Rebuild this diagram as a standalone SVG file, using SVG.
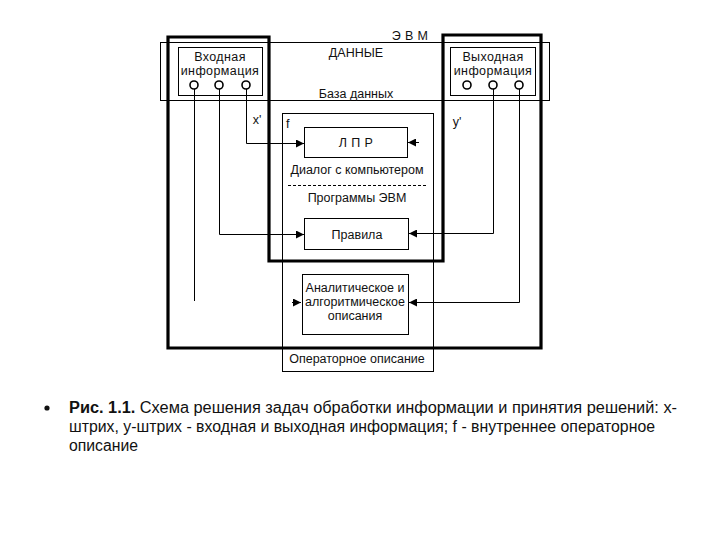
<svg xmlns="http://www.w3.org/2000/svg" width="720" height="540" viewBox="0 0 720 540">
<defs>
<marker id="ah" viewBox="0 0 10 10" refX="10" refY="5" markerWidth="9" markerHeight="8" markerUnits="userSpaceOnUse" orient="auto">
<path d="M0,0 L10,5 L0,10 Z" fill="#000"/>
</marker>
</defs>
<style>
.thin{fill:none;stroke:#000;stroke-width:1}
.thick{fill:none;stroke:#000;stroke-width:3.2}
.t{font-family:"Liberation Sans",Arial,sans-serif;font-size:12.5px;fill:#111;text-anchor:middle}
.ls{letter-spacing:0.4px}
.c{fill:#fff;stroke:#000;stroke-width:1.6}
.con{fill:none;stroke:#000;stroke-width:1}
.cap{font-family:"Liberation Sans",Arial,sans-serif;font-size:16px;fill:#111}
</style>
<rect width="720" height="540" fill="#fff"/>

<g id="evm">
<rect class="thin" x="160.5" y="42.5" width="389" height="58"/>
<text class="t ls" x="410" y="40">Э В М</text>
<text class="t" x="356" y="57">ДАННЫЕ</text>
<text class="t" x="356" y="98">База данных</text>
<path class="thick" d="M168,37 H269 V261 H443 V35 H541 V348 H168 Z"/>
</g>

<g id="operator">
<rect class="thin" x="282.5" y="113.5" width="151" height="258"/>
<text class="t" x="286" y="128" style="text-anchor:start">f</text>
<text class="t" x="357" y="363">Операторное описание</text>
</g>

<g id="input">
<rect class="thin" x="178.5" y="47.5" width="84" height="48"/>
<text class="t ls" x="220" y="61">Входная</text>
<text class="t ls" x="220" y="75">информация</text>
<circle class="c" cx="194" cy="85" r="4"/>
<circle class="c" cx="219" cy="85" r="4"/>
<circle class="c" cx="246" cy="85" r="4"/>
</g>

<g id="output">
<rect class="thin" x="450.5" y="47.5" width="85" height="48"/>
<text class="t ls" x="493" y="61">Выходная</text>
<text class="t ls" x="493" y="75">информация</text>
<circle class="c" cx="467" cy="85" r="4"/>
<circle class="c" cx="493" cy="85" r="4"/>
<circle class="c" cx="519" cy="85" r="4"/>
</g>

<g id="lpr">
<rect class="thin" x="304.5" y="127.5" width="103" height="30"/>
<text class="t ls" x="356" y="147">Л П Р</text>
</g>

<g id="dialog">
<text class="t" x="357" y="174">Диалог с компьютером</text>
<line class="thin" x1="288" y1="185.5" x2="426" y2="185.5" stroke-dasharray="3,2"/>
<text class="t" x="357" y="202">Программы ЭВМ</text>
</g>

<g id="rules">
<rect class="thin" x="304.5" y="218.5" width="104" height="31"/>
<text class="t" x="357" y="239">Правила</text>
</g>

<g id="analytic">
<rect class="thin" x="302.5" y="274.5" width="106" height="60"/>
<text class="t" x="355" y="292">Аналитическое и</text>
<text class="t" x="355" y="306">алгоритмическое</text>
<text class="t" x="355" y="320">описания</text>
</g>

<g id="labels">
<text class="t" x="257" y="124">x'</text>
<text class="t" x="457" y="126">y'</text>
</g>

<g id="connectors">
<path class="con" d="M246.5,89 V143.5 H304" marker-end="url(#ah)"/>
<path class="con" d="M219.5,89 V234.5 H304" marker-end="url(#ah)"/>
<path class="con" d="M194.5,89 V301"/>
<path class="con" d="M292,302.5 H301" marker-end="url(#ah)"/>
<path class="con" d="M419,142.5 H408" marker-end="url(#ah)"/>
<path class="con" d="M493.5,89 V233.5 H409" marker-end="url(#ah)"/>
<path class="con" d="M519.5,89 V302.5 H409" marker-end="url(#ah)"/>
</g>

<g id="caption">
<circle cx="47" cy="408" r="2.6" fill="#111"/>
<text class="cap" x="69" y="413" textLength="608" lengthAdjust="spacingAndGlyphs"><tspan font-weight="bold">Рис. 1.1.</tspan> Схема решения задач обработки информации и принятия решений: x-</text>
<text class="cap" x="69" y="432" textLength="586" lengthAdjust="spacingAndGlyphs">штрих, y-штрих - входная и выходная информация; f - внутреннее операторное</text>
<text class="cap" x="69" y="451" textLength="69" lengthAdjust="spacingAndGlyphs">описание</text>
</g>
</svg>
